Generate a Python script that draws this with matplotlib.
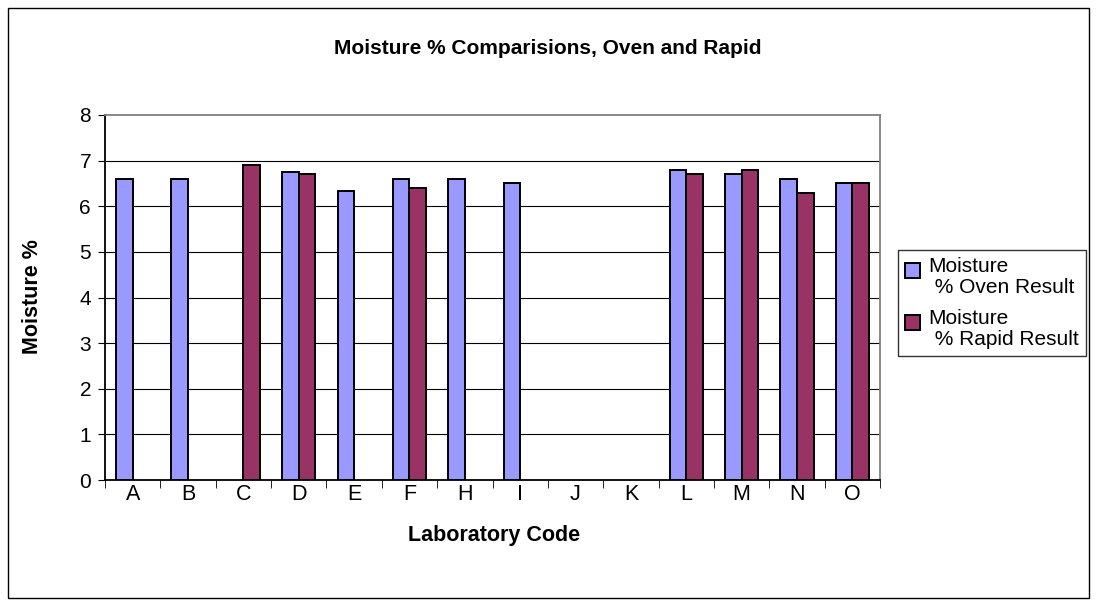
import numpy as np
import matplotlib.pyplot as plt
from matplotlib.patches import Rectangle
from matplotlib.container import BarContainer
from matplotlib.legend_handler import HandlerPatch

plt.rcParams['font.family'] = ['Liberation Sans', 'DejaVu Sans']

# -------------------------------------------------------------------
# Data
# -------------------------------------------------------------------
labs = ["A", "B", "C", "D", "E", "F", "H", "I", "J", "K", "L", "M", "N", "O"]
oven = [6.6, 6.6, np.nan, 6.75, 6.33, 6.6, 6.6, 6.5, np.nan, np.nan, 6.8, 6.7, 6.6, 6.5]
rapid = [np.nan, np.nan, 6.9, 6.7, np.nan, 6.4, np.nan, np.nan, np.nan, np.nan, 6.7, 6.8, 6.3, 6.5]
yticks = [0, 1, 2, 3, 4, 5, 6, 7, 8]

oven_color = "#9999FF"
rapid_color = "#993366"

# -------------------------------------------------------------------
# Figure (positions worked out in pixels)
# -------------------------------------------------------------------
W, H = 1097, 606
fig = plt.figure(figsize=(W / 100, H / 100), dpi=100)
ax = fig.add_axes([105 / W, 1 - 480 / H, 775 / W, 365 / H])

# outer chart border
fig.patches.append(Rectangle((8 / W, 8 / H), 1081 / W, 590 / H, transform=fig.transFigure,
                             fill=False, edgecolor="black", linewidth=1))

x = np.arange(len(labs))
bw = 0.3
ax.bar(x - bw / 2, oven, width=bw, color=oven_color, edgecolor="black", linewidth=1.4,
       label="Moisture\n % Oven Result", zorder=3)
ax.bar(x + bw / 2, rapid, width=bw, color=rapid_color, edgecolor="black", linewidth=1.4,
       label="Moisture\n % Rapid Result", zorder=3)

ax.set_xlim(-0.5, len(labs) - 0.5)
ax.set_ylim(0, 8)
ax.set_yticks(yticks)
ax.set_xticks(x)
ax.set_xticklabels(labs)
ax.set_xticks(np.arange(-0.5, len(labs), 1), minor=True)
ax.tick_params(axis="x", which="major", length=0, pad=3, labelsize=15.5)
ax.tick_params(axis="x", which="minor", length=5.5, direction="out", color="black")
ax.tick_params(axis="y", length=5, direction="out", labelsize=15, pad=5)

for v in yticks[1:-1]:
    ax.axhline(v, color="black", linewidth=0.8, zorder=1)

ax.spines["left"].set_color("black")
ax.spines["bottom"].set_color("black")
ax.spines["top"].set_color("#808080")
ax.spines["right"].set_color("#808080")
for s in ax.spines.values():
    s.set_linewidth(1.3)

# title and axis titles
fig.text(548 / W, 1 - 48 / H, "Moisture % Comparisions, Oven and Rapid",
         fontsize=15, fontweight="bold", ha="center", va="center")
fig.text(494 / W, 1 - 535 / H, "Laboratory Code",
         fontsize=15.5, fontweight="bold", ha="center", va="center")
fig.text(32 / W, 1 - 297 / H, "Moisture %", rotation=90,
         fontsize=15.5, fontweight="bold", ha="center", va="center")


# legend square sits next to the first line of each two-line label
def top_square(legend, orig_handle, xdescent, ydescent, width, height, fontsize):
    s = 0.72 * fontsize
    return Rectangle((-xdescent, -ydescent + height - s - 0.1 * fontsize), s, s)


def from_first_bar(legend_handle, orig_handle):
    legend_handle.update_from(orig_handle.patches[0])


leg = fig.legend(loc="upper left", bbox_to_anchor=(898 / W, 1 - 250 / H), fontsize=15,
                 frameon=True, fancybox=False, edgecolor="black", handlelength=0.72,
                 handleheight=2.1, handletextpad=0.4, borderpad=0.35, labelspacing=0.6,
                 borderaxespad=0,
                 handler_map={BarContainer: HandlerPatch(patch_func=top_square,
                                                         update_func=from_first_bar)})
leg.get_frame().set_linewidth(1)
for t in leg.get_texts():
    t.set_linespacing(1.1)

fig.savefig("out.png", dpi=100)
